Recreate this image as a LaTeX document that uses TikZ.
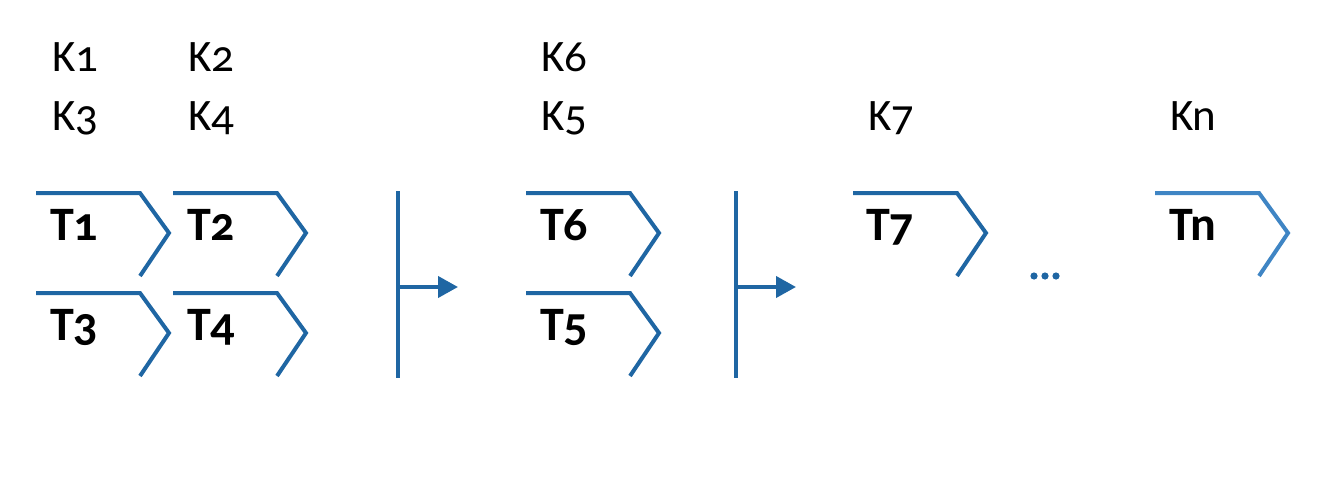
\documentclass[tikz,border=0pt]{standalone}
\usepackage{fontspec}
\setmainfont{Carlito}[Numbers=OldStyle]
\usetikzlibrary{arrows.meta}
\definecolor{cblue}{HTML}{1F66A3}
\definecolor{clight}{HTML}{3F85C4}
\tikzset{
  chevline/.style={draw=cblue, line width=4pt, line join=miter},
  chev/.pic={\draw[chevline,#1] (0,0) -- (104,0) -- (133,40) -- (104,83);},
  chev/.default={},
  klab/.style={anchor=base west, inner sep=0pt, font=\fontsize{45}{50}\selectfont},
  tlab/.style={anchor=base west, inner sep=0pt, font=\bfseries\fontsize{48}{52}\selectfont},
  bar/.style={draw=cblue, line width=4pt},
  flow/.style={draw=cblue, line width=4pt, -{Triangle[length=20pt,width=21pt]}},
}
\begin{document}
\begin{tikzpicture}[x=1pt,y=-1pt]
\useasboundingbox (0,0) rectangle (1334,487);
% K labels
\node[klab] (k1) at (52,72) {K1};
\node[klab] (k2) at (188,72) {K2};
\node[klab] (k3) at (52,130) {K3};
\node[klab] (k4) at (188,130) {K4};
\node[klab] (k6) at (541,72) {K6};
\node[klab] (k5) at (541,130) {K5};
\node[klab] (k7) at (868,130) {K7};
\node[klab] (kn) at (1170,130) {Kn};
% chevrons
\pic at (36,193) {chev};
\pic at (173,193) {chev};
\pic at (36,293) {chev};
\pic at (173,293) {chev};
\pic at (526,193) {chev};
\pic at (526,293) {chev};
\pic at (853,193) {chev};
\pic at (1155,193) {chev={draw=clight}};
% T labels
\node[tlab] (t1) at (50,240) {T1};
\node[tlab] (t2) at (187,240) {T2};
\node[tlab] (t3) at (50,340) {T3};
\node[tlab] (t4) at (187,340) {T4};
\node[tlab] (t6) at (540,240) {T6};
\node[tlab] (t5) at (540,340) {T5};
\node[tlab] (t7) at (866,240) {T7};
\node[tlab] (tn) at (1169,240) {Tn};
% bars and arrows
\coordinate (b1top) at (398,191);
\coordinate (b1bot) at (398,378);
\coordinate (b1mid) at (398,287);
\coordinate (a1) at (458,287);
\draw[bar] (b1top) -- (b1bot);
\draw[flow] (b1mid) -- (a1);
\coordinate (b2top) at (736,191);
\coordinate (b2bot) at (736,378);
\coordinate (b2mid) at (736,287);
\coordinate (a2) at (796,287);
\draw[bar] (b2top) -- (b2bot);
\draw[flow] (b2mid) -- (a2);
% dots
\node[inner sep=0pt] (dots) at (1045,276) {\tikz[x=1pt,y=1pt]{\fill[cblue] (0,0) circle (3.6) (11,0) circle (3.6) (22,0) circle (3.6);}};
\end{tikzpicture}
\end{document}
